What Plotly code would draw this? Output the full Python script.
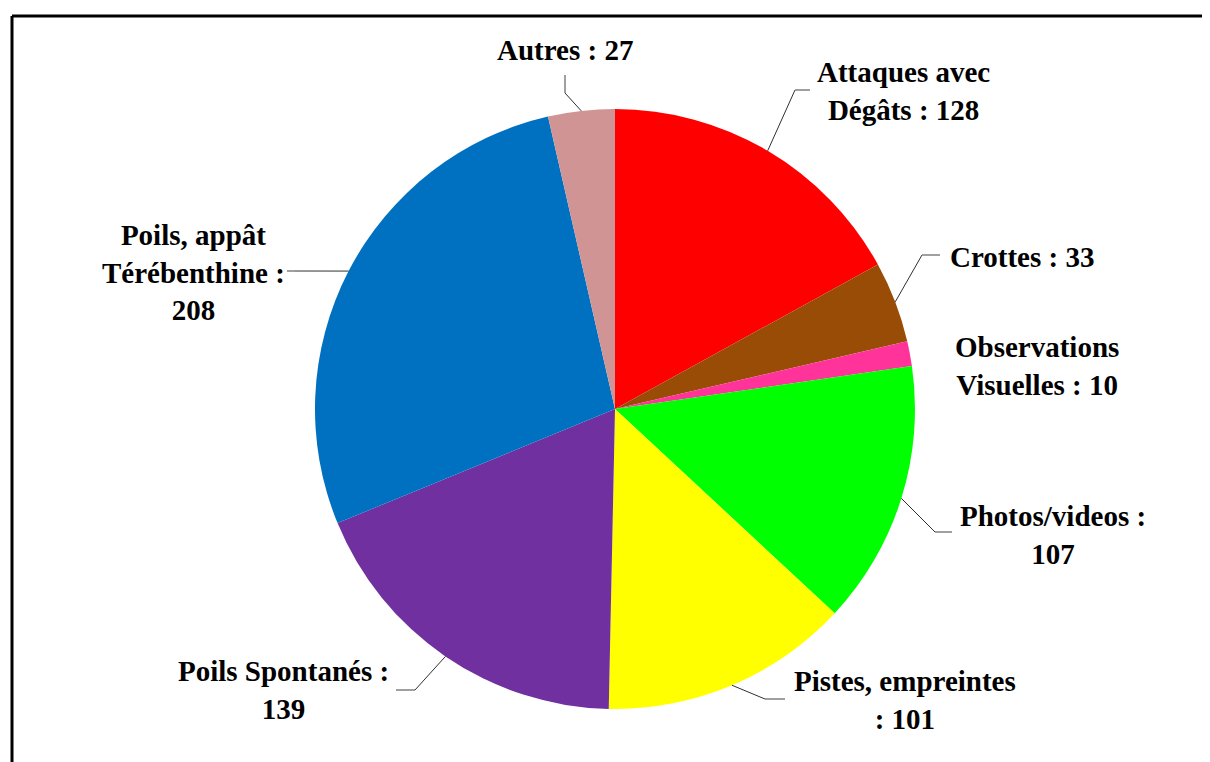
import math
import plotly.graph_objects as go

# ---- data ----
categories = ["Attaques avec Dégâts", "Crottes", "Observations Visuelles",
              "Photos/videos", "Pistes, empreintes", "Poils Spontanés",
              "Poils, appât Térébenthine", "Autres"]
values = [128, 33, 10, 107, 101, 139, 208, 27]
label_texts = ["Attaques avec<br>Dégâts : 128", "Crottes : 33",
               "Observations<br>Visuelles : 10", "Photos/videos :<br>107",
               "Pistes, empreintes<br>: 101", "Poils Spontanés :<br>139",
               "Poils, appât<br>Térébenthine :<br>208", "Autres : 27"]
colors = ["#FF0000", "#994C06", "#FF3399", "#00FF00", "#FFFF00",
          "#7030A0", "#0070C0", "#D09494"]

# ---- layout (pixel geometry, in page coordinates) ----
OFF = 8  # page body margin
W, H = 1210 - OFF, 762 - OFF
cx, cy, R = 615, 409, 300
# label centre positions, elbow and end of leader lines (pixels); None = no leader
label_pos = [(903, 91), (1022, 257), (1037, 366), (1053, 535),
             (905, 700), (283, 690), (193, 272), (565, 50)]
leader_elbow = [(795, 90), (922, 255), None, (935, 532),
                (765, 699), (415, 690), (295, 271), (565, 93)]
leader_end = [(810, 90), (940, 255), None, (952, 532),
              (785, 699), (396, 690), (287, 271), (565, 75)]


def px(x):
    return (x - OFF) / W


def py(y):
    return 1 - (y - OFF) / H


fig = go.Figure(go.Pie(
    labels=categories, values=values, sort=False, direction="clockwise",
    rotation=0, marker=dict(colors=colors, line=dict(width=0)),
    textinfo="none", hoverinfo="none", showlegend=False,
    domain=dict(x=[px(cx - R), px(cx + R)], y=[py(cy + R), py(cy - R)]),
))

total = sum(values)
shapes = []
annotations = []
cum = 0
for i, v in enumerate(values):
    mid = (cum + v / 2) / total * 2 * math.pi
    cum += v
    sx = cx + R * math.sin(mid)
    sy = cy - R * math.cos(mid)
    if leader_elbow[i] is not None:
        ex, ey = leader_elbow[i]
        fx, fy = leader_end[i]
        shapes.append(dict(type="line", xref="paper", yref="paper",
                           x0=px(sx), y0=py(sy), x1=px(ex), y1=py(ey),
                           line=dict(color="#303030", width=1)))
        shapes.append(dict(type="line", xref="paper", yref="paper",
                           x0=px(ex), y0=py(ey), x1=px(fx), y1=py(fy),
                           line=dict(color="#808080", width=1.5)))
    lx, ly = label_pos[i]
    annotations.append(dict(x=px(lx), y=py(ly), xref="paper", yref="paper",
                            text="<b>" + label_texts[i] + "</b>", showarrow=False,
                            align="center", xanchor="center", yanchor="middle",
                            font=dict(family="Liberation Serif, Times New Roman, serif",
                                      size=29, color="black")))

# chart frame (top and left edges visible)
shapes.append(dict(type="line", xref="paper", yref="paper",
                   x0=px(12), y0=py(16), x1=1.0, y1=py(16),
                   line=dict(color="black", width=3)))
shapes.append(dict(type="line", xref="paper", yref="paper",
                   x0=px(12), y0=py(16), x1=px(12), y1=0,
                   line=dict(color="black", width=3)))

fig.update_layout(width=W, height=H, margin=dict(l=0, r=0, t=0, b=0),
                  paper_bgcolor="white", plot_bgcolor="white",
                  shapes=shapes, annotations=annotations)
fig.write_html("out.html")
